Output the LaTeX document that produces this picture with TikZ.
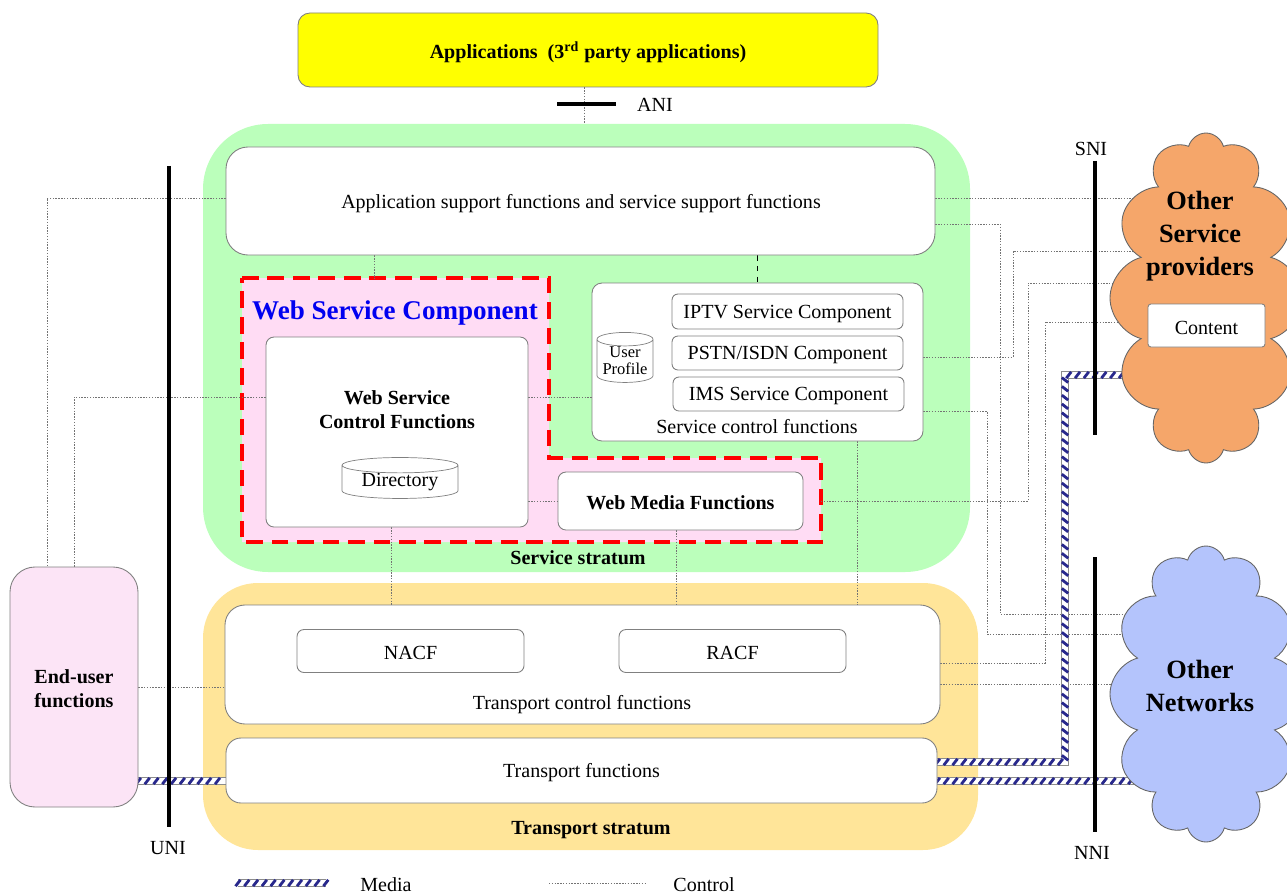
\documentclass[tikz,border=0pt]{standalone}
\usepackage{fontspec}
\setmainfont{Liberation Serif}
\usetikzlibrary{shapes.symbols,shapes.geometric,decorations.markings,calc}
\definecolor{svcgreen}{RGB}{187,255,187}
\definecolor{trpyellow}{RGB}{255,229,153}
\definecolor{appyellow}{RGB}{255,255,0}
\definecolor{wscpink}{RGB}{255,220,244}
\definecolor{eupink}{RGB}{252,228,246}
\definecolor{ospor}{RGB}{245,166,106}
\definecolor{onblue}{RGB}{180,196,252}
\definecolor{medianavy}{RGB}{40,40,140}
\definecolor{wscblue}{RGB}{0,0,240}
\pgfdeclarelayer{bg}\pgfdeclarelayer{lines}\pgfsetlayers{bg,lines,main}
\newcommand\fnorm{\fontsize{11.4pt}{13.7pt}\selectfont}
\newcommand\fbig{\fontsize{15pt}{18.8pt}\selectfont\bfseries}
\begin{document}
\begin{tikzpicture}[x=0.02cm,y=-0.02cm,
  wh/.style 2 args={minimum width=#1*0.02cm, minimum height=#2*0.02cm},
  box/.style={draw=black!50, line width=0.5pt, fill=white, inner sep=0pt, align=center, font=\fnorm},
  txt/.style={font=\fnorm, align=center, inner sep=0pt},
  ctrl/.style={draw=black!55, line width=0.45pt, dash pattern=on 0.8pt off 0.8pt},
  bar/.style={line width=2.3pt, line cap=butt},
  media/.style={draw=black!45, line width=4.6pt,
    postaction={draw=white, line width=3.6pt},
    postaction={decorate, decoration={markings, mark=between positions 0 and 1 step 5pt with {\draw[medianavy, line width=1.6pt] (-1.4pt,-1.8pt) -- (1.4pt,1.8pt);}}}},
  wscreg/.style={fill=wscpink, draw=red, line width=2.3pt, dash pattern=on 9.5pt off 5pt},
  cyl/.style={cylinder, shape border rotate=90, draw=black!50, line width=0.4pt, fill=white, inner sep=0pt, font=\fnorm, align=center},
  cloudsh/.style={cloud, cloud puffs=12, cloud ignores aspect, draw=black!60, line width=0.5pt, inner sep=0pt}]
\useasboundingbox (0,0) rectangle (1287,895);

\begin{pgfonlayer}{bg}
\node[fill=svcgreen, rounded corners=1.3cm, wh={767}{448}, inner sep=0pt] (svc) at (586.5,348) {};
\node[fill=trpyellow, rounded corners=1.1cm, wh={775}{267}, inner sep=0pt] (trp) at (590.5,716.5) {};
\draw[wscreg] (242,278) coordinate (wscTL) -- (549,278) -- (549,458) -- (821,458) coordinate (wscR) -- (821,542) -- (242,542) -- cycle;
\end{pgfonlayer}

% application layer
\node[box, fill=appyellow, rounded corners=0.24cm, wh={580}{74}] (apps) at (588,50) {};
\node[txt, font=\fnorm\bfseries] (appstxt) at (588,52) {Applications\ \ (3\textsuperscript{rd} party applications)};
\node[txt] (ani) at (655,105) {ANI};
\draw[bar] (557,104) -- (616,104);

% service stratum
\node[box, rounded corners=0.44cm, wh={709}{108}] (asf) at (580.5,201) {};
\node[txt] (asftxt) at (581,204) {Application support functions and service support functions};
\node[txt, text=wscblue, font=\fontsize{15.4pt}{18pt}\selectfont\bfseries] (wsctitle) at (395,313) {Web Service Component};
\node[box, rounded corners=0.16cm, wh={262}{190}] (wscf) at (397,432) {};
\node[txt, font=\fnorm\bfseries] (wscftxt) at (397,410) {Web Service\\Control Functions};
\node[cyl, aspect=0.2, minimum width=116*0.02cm, minimum height=38*0.02cm] (dir) at (400,482) {Directory};
\node[box, rounded corners=0.16cm, wh={245}{58}] (wmf) at (680.5,501) {};
\node[txt, font=\fnorm\bfseries] (wmftxt) at (680.5,503) {Web Media Functions};
\node[box, rounded corners=0.2cm, wh={331}{158}] (scf) at (757.5,362) {};
\node[txt] (scftxt) at (757,427) {Service control functions};
\node[box, rounded corners=0.12cm, wh={231}{35}] (iptv) at (787.5,311.5) {};
\node[txt] (iptvtxt) at (787.5,313.5) {IPTV Service Component};
\node[box, rounded corners=0.12cm, wh={231}{34}] (pstn) at (787.5,353) {};
\node[txt] (pstntxt) at (787.5,355) {PSTN/ISDN Component};
\node[box, rounded corners=0.12cm, wh={231}{34}] (ims) at (788.5,394) {};
\node[txt] (imstxt) at (788.5,396) {IMS Service Component};
\node[cyl, aspect=0.3, minimum width=56*0.02cm, minimum height=50*0.02cm, font=\fontsize{9.4pt}{9.6pt}\selectfont] (up) at (625,361) {User\\Profile};
\node[txt, font=\fnorm\bfseries] (svclbl) at (578,558) {Service stratum};

% transport stratum
\node[box, rounded corners=0.4cm, wh={715}{119}] (tcf) at (582.5,664.5) {};
\node[box, rounded corners=0.14cm, wh={227}{43}] (nacf) at (410.5,651) {};
\node[txt] (nacftxt) at (410.5,653) {NACF};
\node[box, rounded corners=0.14cm, wh={227}{43}] (racf) at (732.5,651) {};
\node[txt] (racftxt) at (732.5,653) {RACF};
\node[txt] (tcftxt) at (582,705) {Transport control functions};
\node[box, rounded corners=0.3cm, wh={711}{65}] (tf) at (581.5,770.5) {};
\node[txt] (tftxt) at (581.5,773) {Transport functions};
\node[txt, font=\fnorm\bfseries] (trplbl) at (591,830) {Transport stratum};

% end user
\node[box, fill=eupink, rounded corners=0.5cm, wh={128}{240}] (eu) at (74,687) {};
\node[txt, font=\fnorm\bfseries] (eutxt) at (74,689) {End-user\\functions};

% interfaces
\node[txt] (uni) at (168,848) {UNI};
\draw[bar] (169,166) -- (169,827);
\node[txt] (sni) at (1091,149) {SNI};
\draw[bar] (1095,161) -- (1095,435);
\node[txt] (nni) at (1092,853) {NNI};
\draw[bar] (1095,557) -- (1095,832);

% clouds
\node[cloudsh, fill=ospor, wh={192}{330}] (osp) at (1206,298) {};
\node[txt, font=\fbig] (osptxt) at (1200,236) {Other\\Service\\providers};
\node[box, rounded corners=0.06cm, wh={117}{43}] (content) at (1206.5,325.5) {};
\node[txt] (contenttxt) at (1206.5,327.5) {Content};
\node[cloudsh, fill=onblue, wh={192}{296}] (on) at (1206,694) {};
\node[txt, font=\fbig] (ontxt) at (1200,686) {Other\\Networks};

% legend
\coordinate (lm1) at (238,883);
\coordinate (lm2) at (326,883);
\node[txt] (lmtxt) at (386,885) {Media};
\coordinate (lc1) at (549,883);
\coordinate (lc2) at (645,883);
\node[txt] (lctxt) at (704,885) {Control};

\begin{pgfonlayer}{lines}
\draw[ctrl] (apps.south -| 584,0) -- (svc.north -| 584,0);
\draw[ctrl] (asf.west |- 0,198) -| (eu.north -| 47,0);
\draw[ctrl] (wscf.west |- 0,397) -| (eu.north -| 74,0);
\draw[ctrl] (eu.east |- 0,687) -- (tcf.west |- 0,687);
\draw[ctrl] (asf.south -| 374,0) -- (wscTL -| 374,0);
\draw[ctrl] (wscf.east |- 0,397) -- (scf.west |- 0,397);
\draw[ctrl] (wscf.east |- wmf.west) -- (wmf.west);
\draw[ctrl] (wscf.south -| 391,0) -- (tcf.north -| 391,0);
\draw[ctrl] (wmf.south -| 676,0) -- (tcf.north -| 676,0);
\draw[ctrl] (scf.south -| 857,0) -- (tcf.north -| 857,0);
\draw[black, dashed, line width=0.9pt] (scf.north |- asf.south) -- (scf.north);
\draw[ctrl] (asf.east |- 0,198) -- (osp.center |- 0,198);
\draw[ctrl] (asf.east |- 0,224) -| (1000,614) -- (on.center |- 0,614);
\draw[ctrl] (scf.east |- 0,357) -| (1013,251) -- (osp.center |- 0,251);
\draw[ctrl] (wscR |- wmf.east) -| (1028,283) -- (osp.center |- 0,283);
\draw[ctrl] (tcf.east |- 0,663) -| (1045,322) -- (osp.center |- 0,322);
\draw[ctrl] (scf.east |- 0,411) -| (987,634) -- (on.center |- 0,634);
\draw[ctrl] (tcf.east |- 0,684) -- (on.center |- 0,684);
\draw[media] (eu.east |- 0,781) -- (tf.west |- 0,781);
\draw[media] (tf.east |- 0,762) -| (1065,375) -- (osp.center |- 0,375);
\draw[media] (tf.east |- 0,781) -- (on.center |- 0,781);
\draw[media] (lm1) -- (lm2);
\draw[ctrl] (lc1) -- (lc2);
\end{pgfonlayer}
\end{tikzpicture}
\end{document}
